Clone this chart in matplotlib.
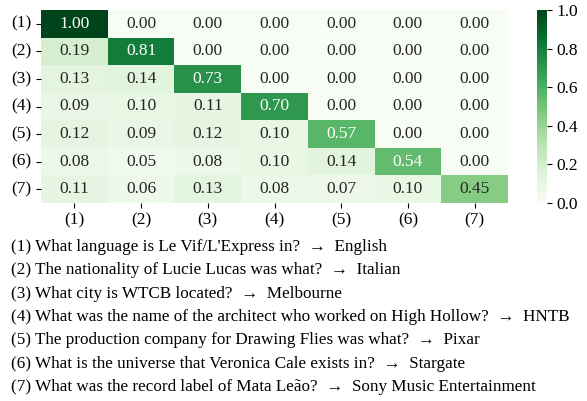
import numpy as np
import matplotlib
matplotlib.use("Agg")
import matplotlib.pyplot as plt
import seaborn as sns

labels = ["(1)", "(2)", "(3)", "(4)", "(5)", "(6)", "(7)"]
scores = [
    [1.00, 0.00, 0.00, 0.00, 0.00, 0.00, 0.00],
    [0.19, 0.81, 0.00, 0.00, 0.00, 0.00, 0.00],
    [0.13, 0.14, 0.73, 0.00, 0.00, 0.00, 0.00],
    [0.09, 0.10, 0.11, 0.70, 0.00, 0.00, 0.00],
    [0.12, 0.09, 0.12, 0.10, 0.57, 0.00, 0.00],
    [0.08, 0.05, 0.08, 0.10, 0.14, 0.54, 0.00],
    [0.11, 0.06, 0.13, 0.08, 0.07, 0.10, 0.45],
]
questions = [
    "What language is Le Vif/L'Express in?",
    "The nationality of Lucie Lucas was what?",
    "What city is WTCB located?",
    "What was the name of the architect who worked on High Hollow?",
    "The production company for Drawing Flies was what?",
    "What is the universe that Veronica Cale exists in?",
    "What was the record label of Mata Leão?",
]
answers = ["English", "Italian", "Melbourne", "HNTB", "Pixar", "Stargate",
           "Sony Music Entertainment"]

plt.rcParams["font.family"] = ["Liberation Serif", "DejaVu Serif"]
fs = 12.5

W, H = 587, 401
fig = plt.figure(figsize=(W / 100, H / 100), dpi=100)
# heatmap and colorbar boxes, in pixels from the top-left corner
ax = fig.add_axes([41 / W, 1 - 203 / H, 467 / W, 193 / H])
cax = fig.add_axes([537 / W, 1 - 203 / H, 10 / W, 193 / H])

sns.heatmap(np.array(scores), ax=ax, cbar_ax=cax, cmap="Greens", vmin=0, vmax=1,
            annot=True, fmt=".2f", annot_kws={"fontsize": fs},
            xticklabels=labels, yticklabels=labels)
ax.tick_params(axis="y", rotation=0, labelsize=fs)
ax.tick_params(axis="x", rotation=0, labelsize=fs)
cax.set_yticks([0.0, 0.2, 0.4, 0.6, 0.8, 1.0])
cax.tick_params(labelsize=fs)

for i, (q, a) in enumerate(zip(questions, answers)):
    fig.text(11 / W, 1 - (247 + i * 23.3) / H, f"{labels[i]} {q}\u2002\u2192\u2002{a}",
             fontsize=12.3, va="center", ha="left")

fig.savefig("out.png", dpi=100)
